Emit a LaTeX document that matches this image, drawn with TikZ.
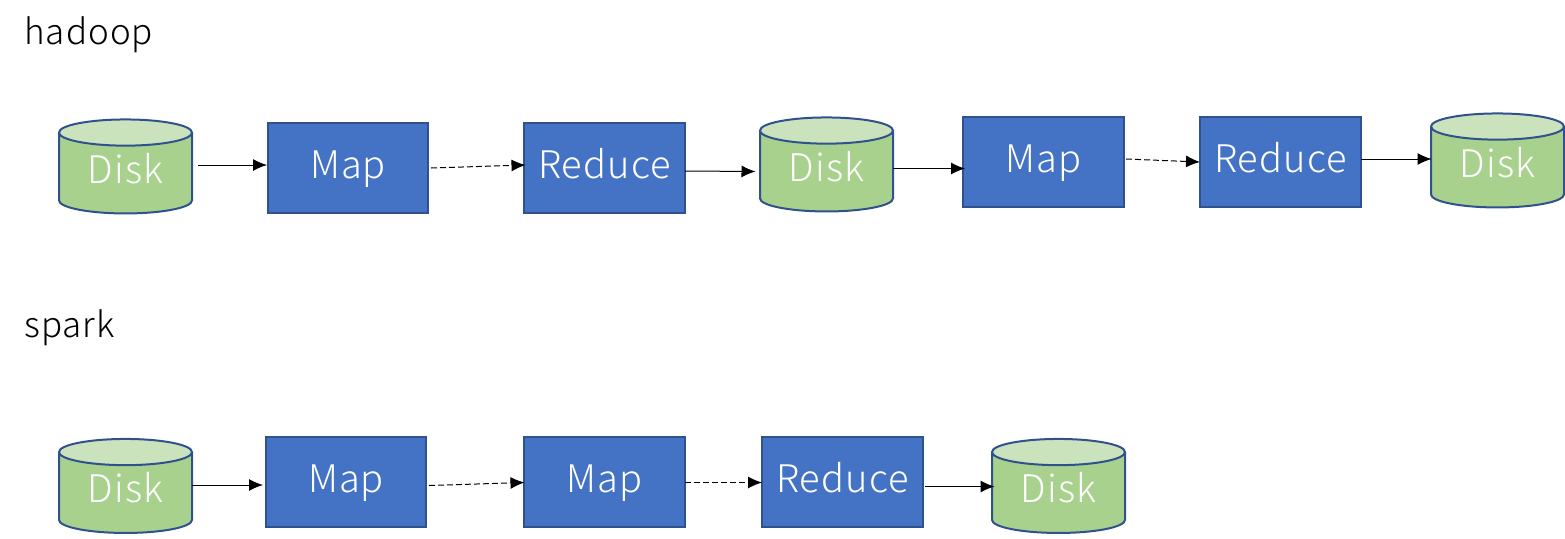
\documentclass[tikz,border=0pt]{standalone}
\usepackage{fontspec}
\setmainfont{Noto Sans CJK JP Light}[LetterSpace=3]
\usetikzlibrary{shapes.geometric,arrows.meta}
\definecolor{boxblue}{RGB}{68,114,196}
\definecolor{edgeblue}{RGB}{47,82,143}
\definecolor{diskbody}{RGB}{169,209,142}
\definecolor{disktop}{RGB}{203,227,188}
\tikzset{
  x=1pt,y=-1pt,
  procbox/.style={rectangle,draw=edgeblue,line width=2pt,fill=boxblue,text=white,minimum width=160.5pt,minimum height=90.5pt,inner sep=0pt,text height=28pt,text depth=8pt,font=\fontsize{38}{40}\selectfont},
  disk/.style={cylinder,shape border rotate=90,aspect=0.346,draw=edgeblue,line width=2pt,cylinder uses custom fill,cylinder body fill=diskbody,cylinder end fill=disktop,text=white,minimum width=133pt,minimum height=94pt,inner sep=0pt,text height=27pt,text depth=8pt,font=\fontsize{38}{40}\selectfont},
  title/.style={anchor=base west,inner sep=0pt,font=\fontsize{35}{38}\selectfont},
  flow/.style={draw=black,line width=1pt,-{Latex[length=14pt,width=12pt]}},
  flowd/.style={flow,dash pattern=on 6pt off 3pt}
}
\begin{document}
\begin{tikzpicture}
\useasboundingbox (0,0) rectangle (1565,538);
\node[title] (t1) at (24,44) {hadoop};
\node[title] (t2) at (24,337) {spark};
\node[disk] (d1) at (125.5,173.5) {Disk};
\node[procbox] (m1) at (348,168) {Map};
\node[procbox] (r1) at (604.5,168) {Reduce};
\node[disk] (d2) at (826.5,171.5) {Disk};
\node[procbox] (m2) at (1043.5,162) {Map};
\node[procbox] (r2) at (1280.5,162) {Reduce};
\node[disk] (d3) at (1497.5,167.5) {Disk};
\node[disk] (d4) at (125.5,493) {Disk};
\node[procbox] (m3) at (346,482) {Map};
\node[procbox] (m4) at (604.5,482) {Map};
\node[procbox] (r3) at (842.5,482) {Reduce};
\node[disk] (d5) at (1058.5,493) {Disk};
\draw[flow] ([shift={(72.5,-8.5)}]d1.center) -- ([shift={(-81,-3)}]m1.center);
\draw[flowd] ([shift={(83,0)}]m1.center) -- ([shift={(-79,-3)}]r1.center);
\draw[flow] ([shift={(80.5,3)}]r1.center) -- ([shift={(-71,0)}]d2.center);
\draw[flow] ([shift={(66.5,-3)}]d2.center) -- ([shift={(-78.5,6.5)}]m2.center);
\draw[flowd] ([shift={(82.5,-3)}]m2.center) -- ([shift={(-80.5,0)}]r2.center);
\draw[flow] ([shift={(80.5,-3)}]r2.center) -- ([shift={(-66,-8.5)}]d3.center);
\draw[flow] ([shift={(66.5,-8)}]d4.center) -- ([shift={(-83,3)}]m3.center);
\draw[flowd] ([shift={(83,3.5)}]m3.center) -- ([shift={(-80,0.5)}]m4.center);
\draw[flowd] ([shift={(80.5,0.5)}]m4.center) -- ([shift={(-80.5,0.5)}]r3.center);
\draw[flow] ([shift={(82.5,4.5)}]r3.center) -- ([shift={(-64,-6.5)}]d5.center);
\end{tikzpicture}
\end{document}
